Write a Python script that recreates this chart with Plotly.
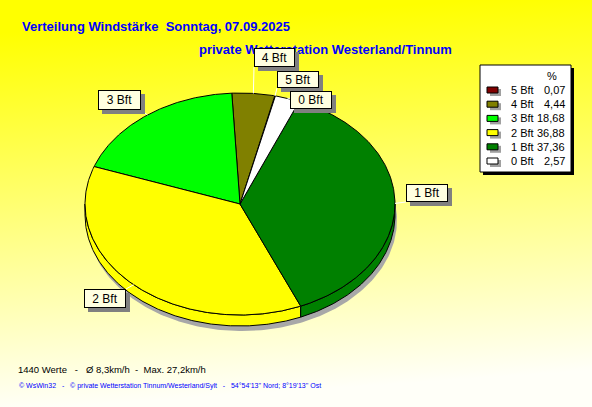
import base64
import numpy as np
import plotly.graph_objects as go

# ---------------- data ----------------
categories = ["5 Bft", "4 Bft", "3 Bft", "2 Bft", "1 Bft", "0 Bft"]
shares = [0.07, 4.44, 18.68, 36.88, 37.36, 2.57]
share_labels = ["0,07", "4,44", "18,68", "36,88", "37,36", "2,57"]
colors = ["#800000", "#808000", "#00FF00", "#FFFF00", "#008000", "#FFFFFF"]

title_text = "Verteilung Windstärke  Sonntag, 07.09.2025"
subtitle_text = "private Wetterstation Westerland/Tinnum"
n_values = 1440
avg_kmh = "8,3"
max_kmh = "27,2"
footer_text = ("© WsWin32   -   © private Wetterstation Tinnum/Westerland/Sylt   -   "
               "54°54'13'' Nord; 8°19'13'' Ost")

# ---------------- style / geometry ----------------
W, H = 592, 407
cx, cy, rx, ry, depth = 240, 204, 155, 111, 11
start_deg = 13.2  # clockwise from 12 o'clock, slices go counter-clockwise
label_boxes = {  # x0, y0, x1, y1 in pixels
    "5 Bft": (277, 71, 319, 88),
    "4 Bft": (254, 48, 295, 67),
    "3 Bft": (98, 90, 141, 110),
    "2 Bft": (84, 289, 126, 308),
    "1 Bft": (406, 184, 448, 202),
    "0 Bft": (290, 91, 332, 109),
}
FONT = "Liberation Sans, Arial, sans-serif"


def ell(theta_deg, dy=0.0):
    t = np.radians(theta_deg)
    return cx + rx * np.sin(t), cy - ry * np.cos(t) + dy


fig = go.Figure()

# shadow under the pie
th = np.linspace(0, 360, 361)
sx, sy = ell(th, depth + 5)
fig.add_trace(go.Scatter(x=sx + 2, y=sy, fill="toself", fillcolor="#A8A8A8",
                         line=dict(width=0), mode="lines", hoverinfo="skip"))

# slice angle ranges
spans = []
a = start_deg
for s in shares:
    a1 = a - s * 3.6
    spans.append((a1, a))
    a = a1

# sides (visible front part: theta in [-270, -90])
for (lo, hi), col in zip(spans, colors):
    l2, h2 = max(lo, -270), min(hi, -90)
    if h2 > l2:
        t = np.linspace(l2, h2, max(int((h2 - l2) * 2), 2))
        tx, ty = ell(t)
        bx, by = ell(t[::-1], depth)
        fig.add_trace(go.Scatter(x=np.concatenate([tx, bx, tx[:1]]),
                                 y=np.concatenate([ty, by, ty[:1]]),
                                 fill="toself", fillcolor=col, mode="lines",
                                 line=dict(color="black", width=1), hoverinfo="skip"))

# top faces
for (lo, hi), col in zip(spans, colors):
    t = np.linspace(lo, hi, max(int((hi - lo) * 2), 2))
    tx, ty = ell(t)
    fig.add_trace(go.Scatter(x=np.concatenate([[cx], tx, [cx]]),
                             y=np.concatenate([[cy], ty, [cy]]),
                             fill="toself", fillcolor=col, mode="lines",
                             line=dict(color="black", width=1), hoverinfo="skip"))

shapes = []
annotations = []

# titles (drawn first so label boxes can cover them)
annotations.append(dict(x=20, y=26, text=f"<b>{title_text}</b>", showarrow=False,
                        xanchor="left", yanchor="middle",
                        font=dict(family=FONT, size=13, color="#0000FF")))
annotations.append(dict(x=197, y=49, text=f"<b>{subtitle_text}</b>", showarrow=False,
                        xanchor="left", yanchor="middle",
                        font=dict(family=FONT, size=13, color="#0000FF")))

# labels with leader lines
for cat, (lo, hi) in zip(categories, spans):
    x0, y0, x1, y1 = label_boxes[cat]
    px, py = ell((lo + hi) / 2)
    qx, qy = min(max(px, x0), x1), min(max(py, y0), y1)
    shapes.append(dict(type="line", x0=px, y0=py, x1=qx, y1=qy,
                       line=dict(color="white", width=1), layer="above"))
for cat in categories:
    x0, y0, x1, y1 = label_boxes[cat]
    annotations.append(dict(x=(x0 + x1) / 2 + 4, y=(y0 + y1) / 2 + 4, text=" ",
                            showarrow=False, xanchor="center", yanchor="middle",
                            width=x1 - x0, height=y1 - y0, borderpad=0, borderwidth=0,
                            bgcolor="#808080", font=dict(family=FONT, size=12)))
    annotations.append(dict(x=(x0 + x1) / 2, y=(y0 + y1) / 2, text=cat, showarrow=False,
                            xanchor="center", yanchor="middle",
                            width=x1 - x0 - 2, height=y1 - y0 - 2, borderpad=0,
                            borderwidth=1, bordercolor="black", bgcolor="#FFFFE1",
                            font=dict(family=FONT, size=12, color="black")))

# legend box
shapes.append(dict(type="rect", x0=483, y0=68, x1=574, y1=175, fillcolor="black",
                   line=dict(width=0), layer="above"))
shapes.append(dict(type="rect", x0=480, y0=65, x1=571, y1=172, fillcolor="white",
                   line=dict(color="black", width=1), layer="above"))
annotations.append(dict(x=552, y=76, text="%", showarrow=False, xanchor="center",
                        yanchor="middle", font=dict(family=FONT, size=11, color="black")))
for i, (cat, lab, col) in enumerate(zip(categories, share_labels, colors)):
    yc = 90 + 14.2 * i
    shapes.append(dict(type="rect", x0=490, y0=yc - 1, x1=501, y1=yc + 6,
                       fillcolor="#A0A0A0", line=dict(width=0), layer="above"))
    shapes.append(dict(type="rect", x0=487, y0=yc - 3, x1=498, y1=yc + 3,
                       fillcolor=col, line=dict(color="black", width=1), layer="above"))
    annotations.append(dict(x=509, y=yc, text=cat, showarrow=False, xanchor="left",
                            yanchor="middle", font=dict(family=FONT, size=11, color="black")))
    annotations.append(dict(x=567, y=yc, text=lab, showarrow=False, xanchor="right",
                            yanchor="middle", font=dict(family=FONT, size=11, color="black")))

# footers
annotations.append(dict(x=16, y=369,
                        text=f"{n_values} Werte   -   Ø {avg_kmh}km/h  -  Max. {max_kmh}km/h",
                        showarrow=False, xanchor="left", yanchor="middle",
                        font=dict(family=FONT, size=9.5, color="black")))
annotations.append(dict(x=17, y=386, text=footer_text, showarrow=False,
                        xanchor="left", yanchor="middle",
                        font=dict(family=FONT, size=7, color="#0000FF")))

svg = (f'<svg xmlns="http://www.w3.org/2000/svg" width="{W}" height="{H}">'
       '<defs><linearGradient id="g" x1="0" y1="0" x2="0.1" y2="1">'
       '<stop offset="0" stop-color="#FFFF00"/><stop offset="0.08" stop-color="#FFFF00"/>'
       '<stop offset="1" stop-color="#FFFFF8"/></linearGradient></defs>'
       f'<rect width="{W}" height="{H}" fill="url(#g)"/></svg>')
src = "data:image/svg+xml;base64," + base64.b64encode(svg.encode()).decode()

fig.update_layout(
    width=W, height=H, margin=dict(l=0, r=0, t=0, b=0),
    paper_bgcolor="#FFFF80", plot_bgcolor="rgba(0,0,0,0)",
    showlegend=False,
    xaxis=dict(range=[0, W], visible=False, fixedrange=True),
    yaxis=dict(range=[H, 0], visible=False, fixedrange=True),
    shapes=shapes, annotations=annotations,
    images=[dict(source=src, xref="paper", yref="paper", x=0, y=1, sizex=1, sizey=1,
                 sizing="stretch", layer="below", xanchor="left", yanchor="top")],
)

fig.write_html("out.html", config={"displayModeBar": False},
               post_script="document.body.style.margin='0';document.body.style.overflow='hidden';")
